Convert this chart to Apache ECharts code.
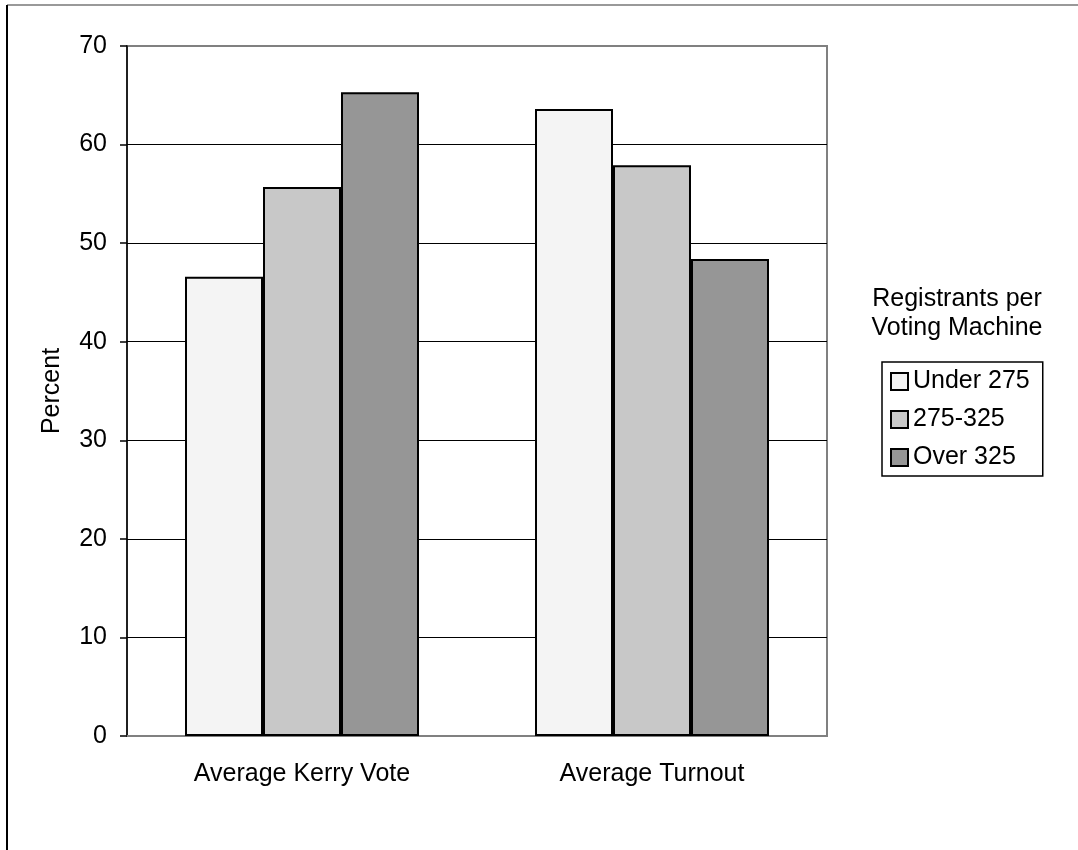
<!DOCTYPE html>
<html>
<head>
<meta charset="utf-8">
<script src="https://cdn.jsdelivr.net/npm/echarts@6/dist/echarts.min.js"></script>
<style>
  html, body { margin: 0; padding: 0; background: #fff; }
  #chart { width: 1078px; height: 850px; }
</style>
</head>
<body>
<div id="chart"></div>
<script>
// Data
const categories = ['Average Kerry Vote', 'Average Turnout'];
const groupNames = ['Under 275', '275-325', 'Over 325'];
const under275 = [46.6, 63.6];
const mid275to325 = [55.7, 57.9];
const over325 = [65.3, 48.4];
const groupColors = ['#f4f4f4', '#c8c8c8', '#969696'];
const legendTitle = 'Registrants per\nVoting Machine';

const FONT = '"Liberation Sans", Arial, sans-serif';
const FS = 25;

const chart = echarts.init(document.getElementById('chart'));

const makeSeries = (name, data, color) => ({
  name,
  type: 'bar',
  data,
  barWidth: 78,
  barGap: '0%',
  itemStyle: { color, borderColor: '#000', borderWidth: 2 },
  emphasis: { disabled: true }
});

const option = {
  animation: false,
  backgroundColor: '#fff',
  textStyle: { fontFamily: FONT },
  grid: {
    left: 127, right: 251, top: 46, bottom: 114,
    show: true, borderColor: '#808080', borderWidth: 2, backgroundColor: '#fff'
  },
  xAxis: {
    type: 'category',
    data: categories,
    axisLine: { lineStyle: { color: '#808080', width: 2 } },
    axisTick: { show: false },
    axisLabel: { color: '#000', fontSize: FS, margin: 26, fontFamily: FONT }
  },
  yAxis: {
    type: 'value',
    min: 0, max: 70, interval: 10,
    name: 'Percent',
    nameLocation: 'middle',
    nameGap: 62,
    nameTextStyle: { color: '#000', fontSize: FS, fontFamily: FONT },
    axisLine: { show: true, lineStyle: { color: '#000', width: 1.5 } },
    axisTick: { show: true, length: 7, lineStyle: { color: '#000', width: 1.5 } },
    axisLabel: { color: '#000', fontSize: FS, margin: 20, fontFamily: FONT },
    splitLine: { show: true, showMinLine: false, showMaxLine: false, lineStyle: { color: '#000', width: 1 } }
  },
  legend: {
    orient: 'vertical',
    left: 882, top: 362,
    padding: [7, 13, 6, 8],
    itemWidth: 17, itemHeight: 17, itemGap: 13,
    icon: 'rect',
    backgroundColor: '#fff',
    borderColor: '#000', borderWidth: 1.5,
    textStyle: { color: '#000', fontSize: FS, fontFamily: FONT },
    data: groupNames
  },
  graphic: [
    { type: 'line', shape: { x1: 7, y1: 5, x2: 1078, y2: 5 }, style: { stroke: '#999', lineWidth: 2 } },
    { type: 'line', shape: { x1: 7, y1: 5, x2: 7, y2: 850 }, style: { stroke: '#000', lineWidth: 2 } },
    {
      type: 'text', x: 957, y: 285,
      style: {
        text: legendTitle,
        fill: '#000', font: FS + 'px ' + FONT,
        align: 'center', verticalAlign: 'top', lineHeight: 29
      }
    }
  ],
  series: [
    makeSeries(groupNames[0], under275, groupColors[0]),
    makeSeries(groupNames[1], mid275to325, groupColors[1]),
    makeSeries(groupNames[2], over325, groupColors[2])
  ]
};

chart.setOption(option);
</script>
</body>
</html>
